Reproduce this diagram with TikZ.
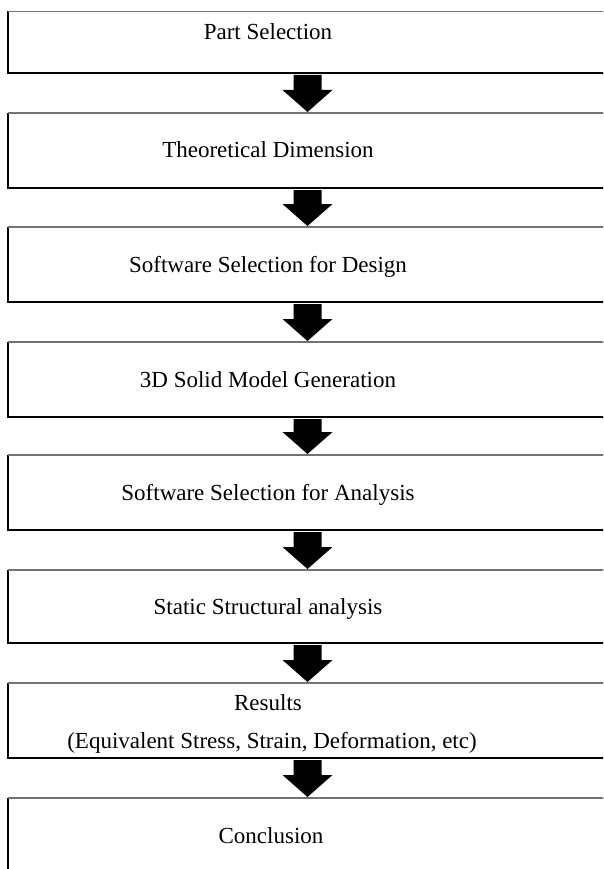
\documentclass[tikz,border=0pt]{standalone}
\usepackage{fontspec}
\setmainfont{Liberation Serif}
\usetikzlibrary{calc}
\begin{document}
\begin{tikzpicture}[x=1pt,y=-1pt,
  box/.style={rectangle, minimum width=599pt, inner sep=0pt, outer sep=0pt, draw=none},
  lbl/.style={anchor=base, inner sep=0pt, font=\fontsize{23}{27}\selectfont},
  edgek/.style={draw=black, line width=1.4pt},
  edgeg/.style={draw=black!55, line width=1.4pt},
  bigarrow/.style={fill=black}]
\useasboundingbox (0,0) rectangle (603,869);
\clip (0,0) rectangle (603,869);
\fill[white] (0,0) rectangle (603,869);
% boxes
\node[box, minimum height=61.5pt] (b1) at (307.5,42.25) {};
\node[box, minimum height=75pt] (b2) at (307.5,150.5) {};
\node[box, minimum height=75pt] (b3) at (307.5,264.5) {};
\node[box, minimum height=75pt] (b4) at (307.5,379.5) {};
\node[box, minimum height=75pt] (b5) at (307.5,492.5) {};
\node[box, minimum height=73pt] (b6) at (307.5,606.5) {};
\node[box, minimum height=75pt] (b7) at (307.5,720.5) {};
\node[box, minimum height=142pt] (b8) at (307.5,869) {};
\foreach \b in {b1,b2,b3,b4,b5,b6,b7,b8} {
  \draw[edgek] (\b.north west) -- (\b.south west) -- (\b.south east);
  \draw[edgeg] (\b.north west) -- (\b.north east);
}
% labels
\node[lbl] (t1) at (268,40) {Part Selection};
\node[lbl] (t2) at (268,158) {Theoretical Dimension};
\node[lbl] (t3) at (268,272) {Software Selection for Design};
\node[lbl] (t4) at (268,387) {3D Solid Model Generation};
\node[lbl] (t5) at (268,500) {Software Selection for Analysis};
\node[lbl] (t6) at (268,614) {Static Structural analysis};
\node[lbl] (t7a) at (268,710) {Results};
\node[lbl] (t7b) at (272,748) {(Equivalent Stress, Strain, Deformation, etc)};
\node[lbl] (t8) at (271,843) {Conclusion};
% arrows
\foreach \a/\c in {b1/b2,b2/b3,b3/b4,b4/b5,b5/b6,b6/b7,b7/b8} {
  \fill[bigarrow] let \p1=([yshift=-2pt]\a.south), \p2=([yshift=1pt]\c.north) in
    (\x1-14pt,\y1) -- (\x1+14pt,\y1) -- (\x1+14pt,\y2+22pt) -- (\x1+25pt,\y2+22pt)
    -- (\x2,\y2) -- (\x1-25pt,\y2+22pt) -- (\x1-14pt,\y2+22pt) -- cycle;
}
\end{tikzpicture}
\end{document}
